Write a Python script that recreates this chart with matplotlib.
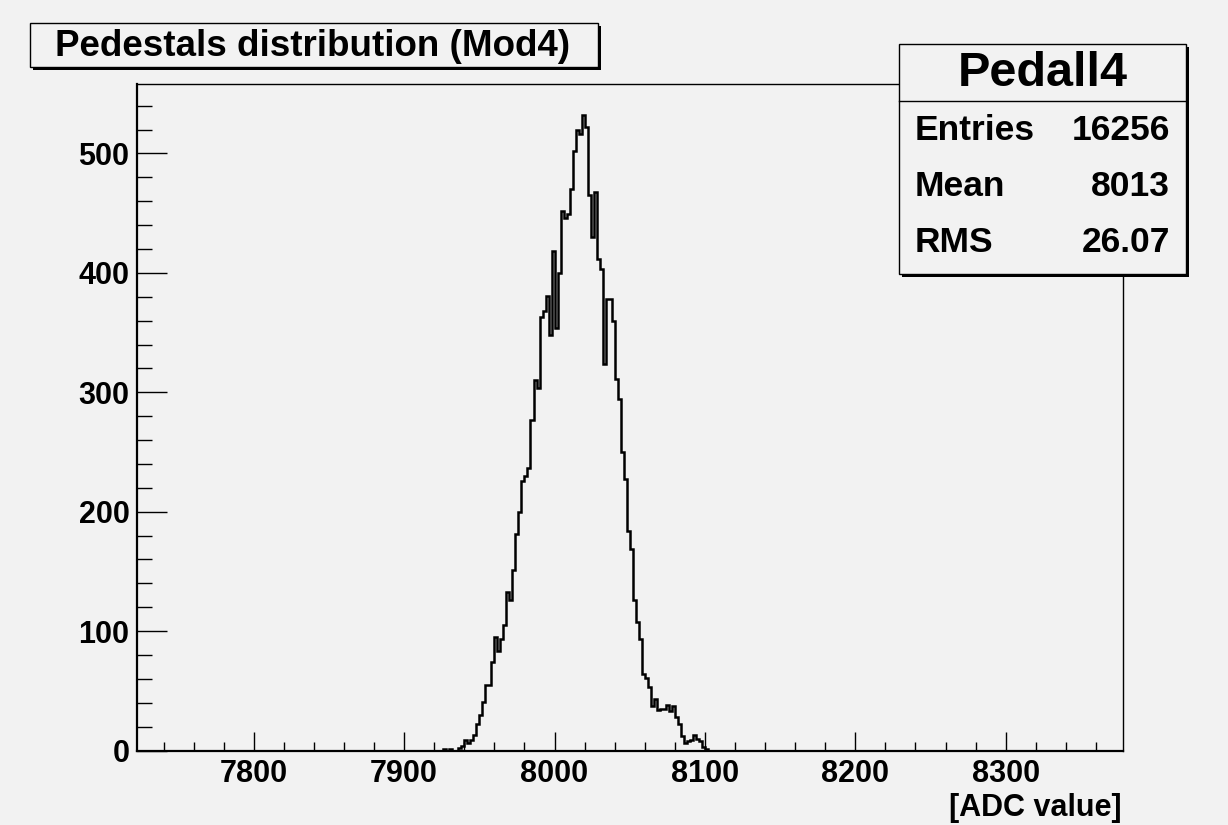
import numpy as np
import matplotlib
matplotlib.use("Agg")
import matplotlib.pyplot as plt
from matplotlib.patches import Rectangle
from matplotlib.ticker import MultipleLocator

plt.rcParams['font.family'] = ['Liberation Sans', 'DejaVu Sans']
plt.rcParams['font.weight'] = 'bold'

# histogram contents, 2 ADC counts per bin starting at 7922
bin_lo = 7922
bin_width = 2
counts = [
    0, 0, 1, 0, 1, 0, 0, 2, 4, 9,
    6, 9, 13, 22, 30, 41, 55, 55, 74, 95,
    83, 93, 105, 133, 126, 151, 181, 200, 226, 230,
    237, 277, 310, 304, 363, 368, 381, 348, 418, 354,
    400, 452, 446, 449, 470, 502, 520, 516, 532, 522,
    465, 430, 468, 412, 403, 324, 378, 378, 360, 311,
    294, 250, 227, 184, 169, 126, 108, 93, 64, 61,
    53, 37, 43, 34, 35, 35, 38, 33, 37, 28,
    22, 12, 6, 8, 9, 13, 10, 8, 3, 1,
    0,
]

x_range = (7722, 8378)
y_range = (0, 558.6)
x_ticks = [7800, 7900, 8000, 8100, 8200, 8300]
y_ticks = [0, 100, 200, 300, 400, 500]

title = "Pedestals distribution (Mod4)"
stats_name = "Pedall4"
stats_rows = [("Entries", "16256"), ("Mean", "8013"), ("RMS", "26.07")]

bg = '#f2f2f2'
W, H = 1228, 825

fig = plt.figure(figsize=(W / 100, H / 100), dpi=100, facecolor=bg)

# main frame, placed in pixel units
left, right, top, bottom = 136.5, 1123, 83.5, 750.5
ax = fig.add_axes([left / W, 1 - bottom / H, (right - left) / W, (bottom - top) / H])
ax.set_facecolor(bg)

edges = bin_lo + bin_width * np.arange(len(counts) + 1)
ax.stairs(counts, edges, color='black', linewidth=1.8, baseline=0)

ax.set_xlim(*x_range)
ax.set_ylim(*y_range)
ax.set_xticks(x_ticks)
ax.set_yticks(y_ticks)
ax.xaxis.set_minor_locator(MultipleLocator(20))
ax.yaxis.set_minor_locator(MultipleLocator(20))

ax.tick_params(axis='x', which='major', direction='in', length=13.7, width=1.0,
               labelsize=22, pad=6, top=False)
ax.tick_params(axis='x', which='minor', direction='in', length=6.8, width=1.0, top=False)
ax.tick_params(axis='y', which='major', direction='in', length=21.6, width=1.0,
               labelsize=22, pad=5, right=False)
ax.tick_params(axis='y', which='minor', direction='in', length=10.8, width=1.0, right=False)
for lab in ax.get_xticklabels() + ax.get_yticklabels():
    lab.set_fontweight('bold')

for side in ['left', 'bottom']:
    ax.spines[side].set_linewidth(1.6)
for side in ['top', 'right']:
    ax.spines[side].set_linewidth(1.0)

# overlay in pixel coords for the title box, stats box and axis title
ov = fig.add_axes([0, 0, 1, 1])
ov.set_xlim(0, W)
ov.set_ylim(H, 0)
ov.axis('off')
ov.patch.set_alpha(0)


def shadow_box(x0, y0, x1, y1, shift=3):
    ov.add_patch(Rectangle((x0 + shift, y0 + shift), x1 - x0, y1 - y0,
                           facecolor='black', edgecolor='black', lw=0))
    ov.add_patch(Rectangle((x0, y0), x1 - x0, y1 - y0,
                           facecolor=bg, edgecolor='black', lw=1.0))


shadow_box(30, 23, 598, 67)
ov.text(313, 46, title, fontsize=26.5, fontweight='bold', ha='center', va='center')

shadow_box(899, 44, 1186, 274, shift=2.5)
ov.plot([899, 1186], [100.5, 100.5], color='black', lw=1.0)
ov.text(1043, 74, stats_name, fontsize=35, fontweight='bold', ha='center', va='center')
row_y = [131, 187, 243]
for (name, val), yy in zip(stats_rows, row_y):
    ov.text(915, yy, name, fontsize=25.5, fontweight='bold', ha='left', va='center')
    ov.text(1170, yy, val, fontsize=25.5, fontweight='bold', ha='right', va='center')

ov.text(1122, 808, "[ADC value]", fontsize=22, fontweight='bold', ha='right', va='center')

fig.savefig('out.png', dpi=100, facecolor=bg)
